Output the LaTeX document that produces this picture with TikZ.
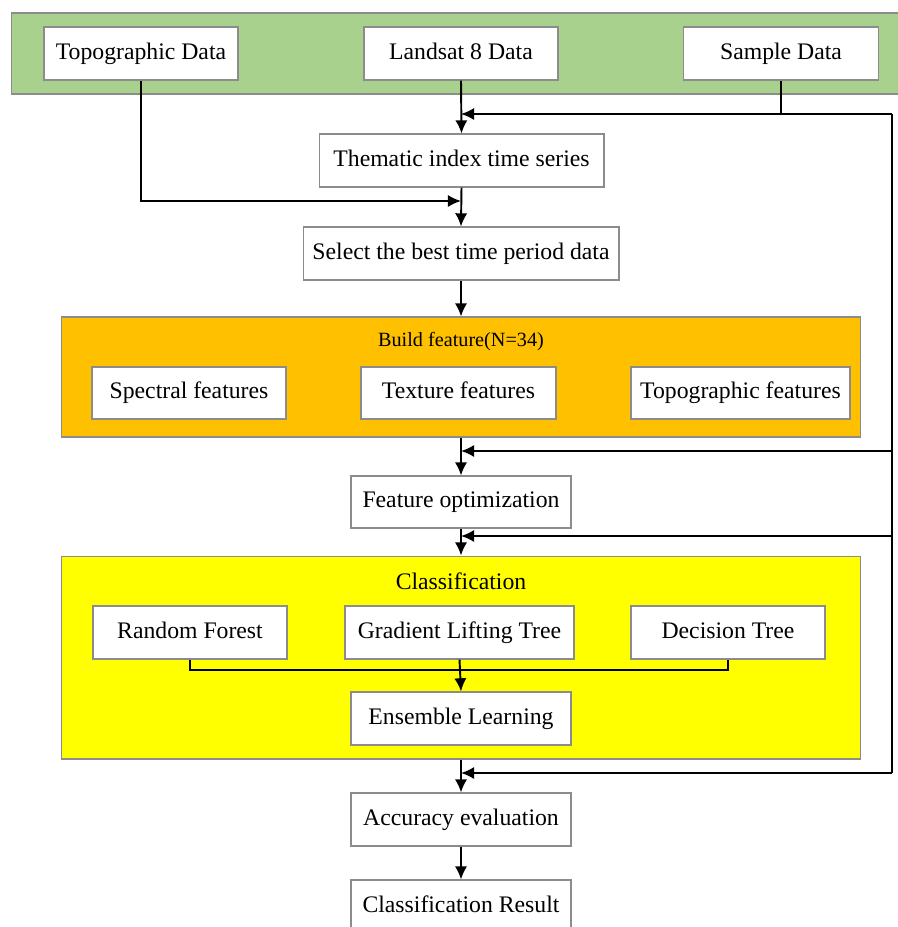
\documentclass[tikz,border=0pt]{standalone}
\usepackage{fontspec}
\setmainfont{Liberation Serif}
\usetikzlibrary{arrows.meta,calc}
\definecolor{bandgreen}{HTML}{A9D18E}
\definecolor{buildorange}{HTML}{FFC000}
\definecolor{classyellow}{HTML}{FFFF00}
\definecolor{edgegray}{HTML}{8C8C8C}

\begin{document}
\begin{tikzpicture}[x=0.02cm,y=-0.02cm]
\tikzstyle{every node}=[font=\fontsize{13.5}{16}\selectfont]
\tikzstyle{box}=[draw=edgegray, line width=0.6pt, fill=white, minimum height=1.06cm, inner sep=0pt, text height=9.5pt, text depth=3pt]
\tikzstyle{group}=[draw=edgegray, line width=0.6pt, inner sep=0pt]
\tikzstyle{link}=[line width=1.1pt, black]
\tikzstyle{arr}=[link, -{Latex[length=7.5pt,width=7pt]}]

	\useasboundingbox (0,0) rectangle (897,927);

	% input band
	\node[group, fill=bandgreen, minimum width=17.8cm, minimum height=1.62cm] (band) at (456,53.5) {};
	\node[box, minimum width=3.88cm] (topo) at (141,53.5) {Topographic Data};
	\node[box, minimum width=3.88cm] (landsat) at (461,53.5) {Landsat 8 Data};
	\node[box, minimum width=3.9cm] (sample) at (781,53.5) {Sample Data};

	\node[box, minimum width=5.7cm] (thematic) at (461.5,160.5) {Thematic index time series};
	\node[box, minimum width=6.32cm] (select) at (461,253.5) {Select the best time period data};

	% build feature
	\node[group, fill=buildorange, minimum width=16cm, minimum height=2.4cm] (build) at (461,377) {};
	\node[font=\fontsize{11.5}{14}\selectfont] (buildtitle) at (461,342) {Build feature(N=34)};
	\node[box, minimum width=3.88cm, minimum height=1.04cm] (spectral) at (189,393) {Spectral features};
	\node[box, minimum width=3.9cm, minimum height=1.04cm] (texture) at (458.5,393) {Texture features};
	\node[box, minimum width=4.38cm, minimum height=1.04cm] (topofeat) at (740.5,393) {Topographic features};

	\node[box, minimum width=4.4cm, minimum height=1.04cm] (featopt) at (461,502) {Feature optimization};

	% classification
	\node[group, fill=classyellow, minimum width=16cm, minimum height=4.06cm] (classbox) at (461,657.5) {};
	\node (classtitle) at (461,581) {Classification};
	\node[box, minimum width=3.88cm] (rf) at (190,632.5) {Random Forest};
	\node[box, minimum width=4.58cm] (glt) at (459.5,632.5) {Gradient Lifting Tree};
	\node[box, minimum width=3.88cm] (dt) at (728,632.5) {Decision Tree};
	\node[box, minimum width=4.4cm] (ens) at (461,718.5) {Ensemble Learning};

	\node[box, minimum width=4.4cm] (acc) at (461,819.5) {Accuracy evaluation};
	\node[box, minimum width=4.4cm] (result) at (461,906.5) {Classification Result};

	% junctions
	\coordinate (j1) at (461,114);
	\coordinate (j2) at (461,201);
	\coordinate (merge) at (461,670);
	\coordinate (rtop) at (892,114);
	\coordinate (rbot) at (892,773);

	\draw[arr] (landsat.south) -- (thematic.north);
	\draw[link] (sample.south) -- (sample.south |- j1);
	\draw[arr] (rtop) -- (j1);
	\draw[link] (rtop) -- (rbot);
	\draw[arr] (topo.south) |- (j2);
	\draw[arr] (thematic.south) -- (select.north);
	\draw[arr] (select.south) -- (build.north);
	\draw[arr] (build.south) -- (featopt.north);
	\draw[arr] (featopt.south) -- (classbox.north);
	\draw[arr] (classbox.south) -- (acc.north);
	\draw[arr] (acc.south) -- (result.north);

	\foreach \yy in {451,536,773} {
		\draw[arr] (rtop |- 0,\yy) -- (j1 |- 0,\yy);
	}

	\draw[link] (rf.south) |- (merge) -| (dt.south);
	\draw[arr] (glt.south) -- (ens.north);
\end{tikzpicture}
\end{document}
